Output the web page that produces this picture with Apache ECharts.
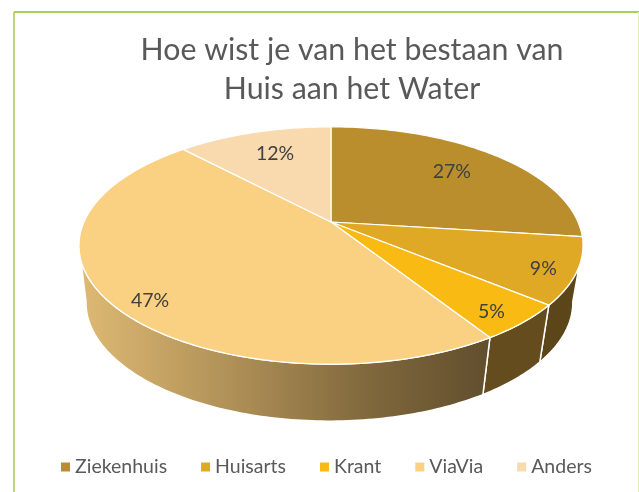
<!DOCTYPE html>
<html>
<head>
<meta charset="UTF-8">
<title>Hoe wist je van het bestaan van Huis aan het Water</title>
<script src="https://cdn.jsdelivr.net/npm/echarts@6/dist/echarts.min.js"></script>
<style>
  html, body { margin:0; padding:0; background:#fff; }
  #chart { width:639px; height:492px; }
</style>
</head>
<body>
<div id="chart"></div>
<script>
var categories = ['Ziekenhuis', 'Huisarts', 'Krant', 'ViaVia', 'Anders'];
var percentages = [27, 9, 5, 47, 12];
var topColors = ['#BA8E2D', '#DFA825', '#F9BA14', '#FAD083', '#F8DAAE'];

var FONT = 'Lato, "Open Sans", sans-serif';

// perspective of the disc, measured on the picture
var CX = 331, CY = 222, RX = 247, RY = 114, K = 0.198;
var VANISH_X = 284, SHRINK_X = 0.966, DROP = 57;
var VISIBLE_FROM = 101, VISIBLE_TO = 259;

// where each percentage sits
var labelRadius = [0.7, 0.88, 0.88, 0.85, 0.75];
var labelShift = [[2,-2], [-2,4], [-5,3], [4,12], [4,2]];

function project(deg, r) {
  var a = deg * Math.PI / 180;
  var u = r * Math.sin(a), v = -r * Math.cos(a);
  var d = 1 - K * v;
  return [CX + RX * u / d, CY + RY * v / d];
}
function lower(p) {
  return [VANISH_X + (p[0] - VANISH_X) * SHRINK_X, p[1] + DROP];
}
function arcPoints(from, to) {
  var pts = [];
  var n = Math.max(2, Math.ceil(Math.abs(to - from)));
  for (var i = 0; i <= n; i++)
    pts.push(project(from + (to - from) * i / n, 1));
  return pts;
}

var total = percentages.reduce(function(a, b){ return a + b; }, 0);
var startAngle = [];
var sum = 0;
for (var i = 0; i < percentages.length; i++) {
  startAngle.push(sum / total * 360);
  sum += percentages[i];
}

function sideFill(idx) {
  if (idx == 3)
    return new echarts.graphic.LinearGradient(85, 0, 495, 0, [
      {offset:0, color:'#DDB873'},
      {offset:0.35, color:'#B09157'},
      {offset:0.7, color:'#7F673C'},
      {offset:1, color:'#604D2D'}
    ], true);
  return idx == 2 ? '#654C1E' : '#5B4519';
}

function renderSlice(idx) {
  return function() {
    var from = startAngle[idx];
    var to = from + percentages[idx] / total * 360;
    var children = [];

    // side wall, only the part facing the viewer
    var sFrom = Math.max(from, VISIBLE_FROM), sTo = Math.min(to, VISIBLE_TO);
    if (sTo > sFrom) {
      var rim = arcPoints(sFrom, sTo);
      children.push({
        type:'polygon', z2:1,
        shape:{points: rim.concat(rim.map(lower).reverse())},
        style:{fill:sideFill(idx), stroke:'#fff', lineWidth:1.5}
      });
    }

    // top face
    children.push({
      type:'polygon', z2:5,
      shape:{points: [[CX, CY]].concat(arcPoints(from, to))},
      style:{fill:topColors[idx], stroke:'#fff', lineWidth:1.2, lineJoin:'round'}
    });

    var mid = project((from + to) / 2, labelRadius[idx]);
    children.push({
      type:'text', z2:10, x:mid[0] + labelShift[idx][0], y:mid[1] + labelShift[idx][1],
      style:{text:percentages[idx] + '%', fill:'#404040', font:'19.5px ' + FONT, align:'center', verticalAlign:'middle'}
    });
    return {type:'group', children:children};
  };
}

var myChart = echarts.init(document.getElementById('chart'), null, {renderer:'canvas'});
var option = {
  animation:false,
  backgroundColor:'#fff',
  color:topColors,
  title:{
    text:'Hoe wist je van het bestaan van\nHuis aan het Water',
    left:347, top:26, textAlign:'center',
    textStyle:{color:'#595959', fontFamily:FONT, fontSize:30.3, fontWeight:'normal', lineHeight:39}
  },
  legend:{
    data:categories, top:457, left:61,
    icon:'rect', itemWidth:9, itemHeight:9, itemGap:34, padding:0,
    textStyle:{color:'#595959', fontFamily:FONT, fontSize:19.5}
  },
  graphic:[
    {type:'line', shape:{x1:14, y1:12, x2:14, y2:492}, style:{stroke:'#B9D77C', lineWidth:2}},
    {type:'line', shape:{x1:14, y1:12, x2:639, y2:12}, style:{stroke:'#A9CF5F', lineWidth:2}},
    {type:'line', shape:{x1:638.5, y1:12, x2:638.5, y2:492}, style:{stroke:'#E4EBB5', lineWidth:1}}
  ],
  series:categories.map(function(name, idx){
    return {
      type:'custom', name:name, coordinateSystem:'none',
      itemStyle:{color:topColors[idx]},
      data:[[percentages[idx]]],
      renderItem:renderSlice(idx)
    };
  })
};
myChart.setOption(option);
</script>
</body>
</html>
